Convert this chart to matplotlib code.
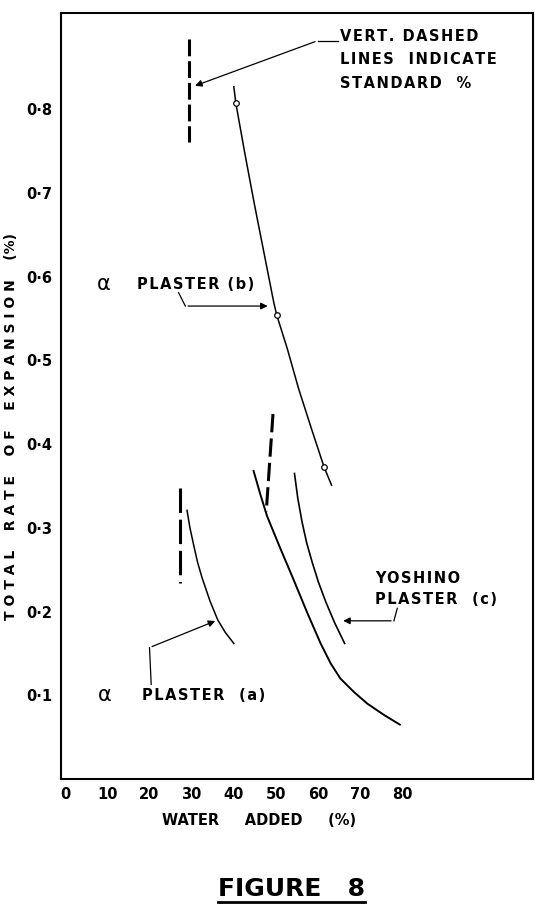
import numpy as np
import matplotlib
matplotlib.use("Agg")
import matplotlib.pyplot as plt

matplotlib.rcParams.update({'font.family': 'DejaVu Sans', 'font.weight': 'bold'})

# alpha plaster (b) - curve with measured points
b_x = [40.0, 40.5, 42.6, 44.8, 47.5, 49.5, 50.2, 52.7, 55.4, 58.2, 61.4, 63.2]
b_y = [0.827, 0.807, 0.748, 0.689, 0.620, 0.569, 0.554, 0.514, 0.466, 0.422, 0.373, 0.351]
b_pts_x = [40.5, 50.2, 61.4]
b_pts_y = [0.807, 0.554, 0.373]

# alpha plaster (a)
a_x = [28.9, 29.6, 30.5, 31.4, 32.5, 34.4, 36.2, 38.0, 40.0]
a_y = [0.321, 0.300, 0.279, 0.259, 0.240, 0.212, 0.190, 0.175, 0.162]

# middle curve
m_x = [44.7, 46.3, 47.9, 51.0, 54.2, 57.4, 60.6, 63.0, 65.3, 68.5, 71.7, 75.5, 79.4]
m_y = [0.368, 0.340, 0.314, 0.276, 0.238, 0.199, 0.162, 0.138, 0.120, 0.104, 0.090, 0.077, 0.065]

# yoshino plaster (c)
c_x = [54.4, 55.2, 56.2, 57.3, 58.6, 60.1, 61.8, 63.9, 66.3]
c_y = [0.365, 0.335, 0.307, 0.282, 0.259, 0.235, 0.212, 0.187, 0.162]

# standard % (vertical dashed lines)
std_b_x = [29.4, 29.4]
std_b_y = [0.884, 0.761]
std_a_x = [27.3, 27.3]
std_a_y = [0.348, 0.234]
std_c_x = [49.3, 47.7]
std_c_y = [0.436, 0.319]

xticks = [0, 10, 20, 30, 40, 50, 60, 70, 80]
yticks = [0.1, 0.2, 0.3, 0.4, 0.5, 0.6, 0.7, 0.8]
ytick_labels = ['0·1', '0·2', '0·3', '0·4', '0·5', '0·6', '0·7', '0·8']


def spaced(s):
    # wide lettering of the original drawing
    return '\u200a'.join(s)


fig = plt.figure(figsize=(5.38, 9.07), dpi=100)
ax = fig.add_axes([0.1134, 0.1411, 0.8773, 0.8445])

ax.plot(b_x, b_y, 'k-', lw=1.1)
ax.plot(b_pts_x, b_pts_y, 'o', ms=4, mfc='white', mec='black', mew=0.9)
ax.plot(a_x, a_y, 'k-', lw=1.1)
ax.plot(m_x, m_y, 'k-', lw=1.4)
ax.plot(c_x, c_y, 'k-', lw=1.2)
ax.plot(std_b_x, std_b_y, 'k-', lw=2.2, dashes=(5.5, 1.6))
ax.plot(std_a_x, std_a_y, 'k-', lw=2.2, dashes=(8, 2.2))
ax.plot(std_c_x, std_c_y, 'k-', lw=2.2, dashes=(6, 2))

ax.set_xlim(-1, 111)
ax.set_ylim(0.0, 0.915)
ax.set_xticks(xticks)
ax.set_yticks(yticks)
ax.set_yticklabels(ytick_labels)
ax.tick_params(length=0, labelsize=10.5, pad=6)
for lab in ax.get_xticklabels() + ax.get_yticklabels():
    lab.set_fontweight('bold')
for s in ax.spines.values():
    s.set_linewidth(1.5)

ax.set_xlabel('WATER     ADDED     (%)', fontsize=10.5, fontweight='bold')
ax.xaxis.set_label_coords(0.419, -0.044)
ax.set_ylabel('T O T A L    R A T E    O F    E X P A N S I O N    (%)',
              fontsize=10, fontweight='bold')
ax.yaxis.set_label_coords(-0.091, 0.46)

txt = dict(fontsize=10.5, fontweight='bold', va='center')
arw = dict(arrowstyle='-|>', color='black', lw=0.9, mutation_scale=10)

# vert dashed lines note
ax.text(65.2, 0.887, spaced('VERT. DASHED'), **txt)
ax.text(65.2, 0.860, spaced('LINES  INDICATE'), **txt)
ax.text(65.2, 0.831, spaced('STANDARD  %'), **txt)
ax.plot([64.8, 59.9], [0.882, 0.882], 'k-', lw=0.9)
ax.annotate('', xy=(30.2, 0.827), xytext=(59.9, 0.882), arrowprops=arw)

# alpha plaster (b)
ax.text(9.2, 0.591, 'α', fontsize=15, ha='center', va='center', fontweight='normal')
ax.text(17.1, 0.591, spaced('PLASTER (b)'), **txt)
ax.plot([26.9, 28.5], [0.581, 0.565], 'k-', lw=0.9)
ax.annotate('', xy=(48.7, 0.565), xytext=(28.5, 0.565), arrowprops=arw)

# yoshino plaster (c)
ax.text(73.6, 0.240, spaced('YOSHINO'), **txt)
ax.text(73.6, 0.214, spaced('PLASTER  (c)'), **txt)
ax.plot([78.8, 78.0], [0.204, 0.189], 'k-', lw=0.9)
ax.annotate('', xy=(65.3, 0.189), xytext=(78.0, 0.189), arrowprops=arw)

# alpha plaster (a)
ax.text(9.4, 0.100, 'α', fontsize=15, ha='center', va='center', fontweight='normal')
ax.text(18.3, 0.100, spaced('PLASTER  (a)'), **txt)
ax.plot([20.4, 20.0], [0.113, 0.157], 'k-', lw=0.9)
ax.annotate('', xy=(36.2, 0.190), xytext=(20.0, 0.157), arrowprops=arw)

fig.text(0.541, 0.012, 'FIGURE   8', fontsize=18, fontweight='bold',
         ha='center', va='baseline')
fig.add_artist(plt.Line2D([0.405, 0.678], [0.006, 0.006], color='black', lw=2,
                          transform=fig.transFigure))

fig.savefig('out.png', dpi=100)
